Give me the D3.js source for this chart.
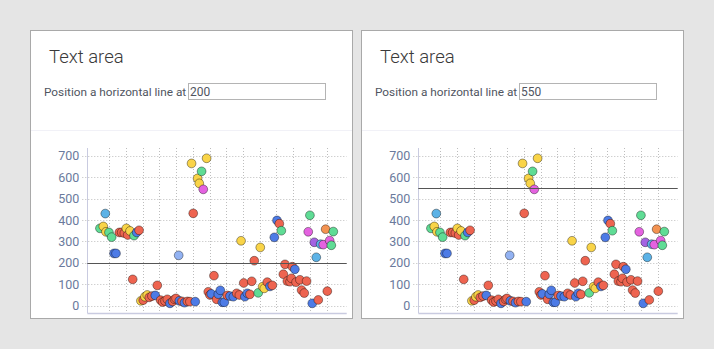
<!DOCTYPE html>
<html>
<head>
<meta charset="utf-8">
<script src="https://cdn.jsdelivr.net/npm/d3@7"></script>
<style>
  html, body { margin: 0; padding: 0; background: #e5e5e5; width: 714px; height: 349px; overflow: hidden; }
  svg { display: block; font-family: Roboto, "Noto Sans", sans-serif; }
</style>
</head>
<body>
<svg id="page" width="714" height="349"></svg>
<script>
// Scatter data: x position (grid units), value, and group of each point
const pointX = [-0.56, -0.36, -0.24, -0.2, -0.02, 0.14, 0.28, 0.40, 0.6, 0.74, 0.9, 1.02, 1.1, 1.24, 1.4, 1.48, 1.64, 1.78,
  1.89, 2.03, 2.13, 2.27, 2.39, 2.55, 2.75, 2.87, 3.07, 3.19, 3.33, 3.47, 3.63, 3.79, 3.9, 3.99, 4.15, 4.19, 4.35, 4.5, 4.67, 4.82,
  4.92, 5.02, 5.14, 5.28, 5.38, 5.52, 5.62, 5.82,
  5.92, 6.02, 6.1, 6.26, 6.42, 6.52, 6.64, 6.76, 6.88, 7.06, 7.22, 7.42, 7.62, 7.78, 7.88, 8.04, 8.11, 8.25, 8.41, 8.52, 8.67,
  8.91, 9.03, 9.17, 9.27, 9.45, 9.61, 9.75, 9.87, 10.03, 10.17, 10.29, 10.41, 10.51, 10.65, 10.81, 10.89, 10.95, 11.1, 11.17,
  11.4, 11.5, 11.66, 11.8, 11.9, 12.0, 12.14, 12.26, 12.38, 12.5, 12.64, 12.8, 12.94, 13.04, 13.18, 13.28, 13.4];
const pointY = [361, 370, 430, 345, 342, 320, 244, 244, 342, 342, 339, 361, 330, 349, 123, 327, 342, 352,
  23, 26, 42, 50, 39, 45, 48, 95, 26, 17, 22, 30, 11, 20, 30, 34, 235, 23, 20, 14, 20, 19,
  664, 431, 19, 594, 571, 627, 543, 688,
  65, 50, 55, 140, 30, 54, 72, 16, 16, 48, 45, 42, 58, 50, 303, 106, 42, 58, 53, 114, 210,
  60, 272, 89, 81, 110, 90, 95, 319, 398, 383, 350, 147, 193, 115, 112, 128, 182, 170, 110,
  121, 73, 59, 115, 345, 422, 11, 296, 226, 27, 287, 285, 357, 68, 304, 282, 346];
const pointGroup = ["green", "yellow", "sky", "yellow", "green", "green", "blue", "blue", "red", "red", "red", "yellow", "red", "yellow", "red", "green", "blue", "red",
  "yellow", "red", "yellow", "yellow", "red", "red", "blue", "red", "red", "red", "red", "red", "blue", "red", "red", "red", "pale", "blue", "red", "blue", "red", "red",
  "yellow", "red", "blue", "yellow", "yellow", "green", "magenta", "yellow",
  "red", "red", "blue", "red", "red", "blue", "blue", "blue", "blue", "red", "blue", "blue", "red", "red", "yellow", "red", "blue", "blue", "red", "red", "red",
  "green", "yellow", "yellow", "yellow", "red", "blue", "red", "blue", "blue", "red", "green", "red", "red", "red", "red", "red", "red", "blue", "red",
  "red", "red", "red", "red", "magenta", "green", "blue", "purple", "sky", "red", "sky", "magenta", "orange", "red", "magenta", "green", "green"];

const groupNames = ["red", "blue", "yellow", "green", "sky", "pale", "magenta", "purple", "orange"];
const groupColors = ["#ee6450", "#4d7be6", "#f9d448", "#5fdc95", "#5cb2e6", "#92b2f2", "#e462e0", "#a463e2", "#f39352"];

const yTicks = [0, 100, 200, 300, 400, 500, 600, 700];
const xGridTicks = [0, 1, 2, 3, 4, 5, 6, 7, 8, 9, 10, 11, 12, 13];

// One panel per horizontal-line position
const panelTitles = ["Text area", "Text area"];
const lineLabel = "Position a horizontal line at";
const lineValues = [200, 550];

const svg = d3.select("#page");
const panelOffsets = [30, 361];
const panelW = 323, panelH = 289;

const plot = { left: 57.3, right: 316.7, top: 118, bottom: 283 };
const x = d3.scaleLinear().domain([-1.316, 14.2]).range([plot.left, plot.right]);
const y = d3.scaleLinear().domain([-34, 736]).range([plot.bottom, plot.top]);
const color = d3.scaleOrdinal().domain(groupNames).range(groupColors);

const points = pointX.map((d, i) => ({ x: d, y: pointY[i], g: pointGroup[i] }));

panelOffsets.forEach((ox, pi) => {
  const p = svg.append("g").attr("transform", `translate(${ox},30)`);

  p.append("rect")
    .attr("x", 0.5).attr("y", 0.5)
    .attr("width", panelW - 1).attr("height", panelH - 1)
    .attr("fill", "#fff").attr("stroke", "#a9a9a9");

  p.append("text")
    .attr("x", 19).attr("y", 33)
    .attr("font-size", 18.5).attr("font-weight", 300)
    .attr("fill", "#3a3a3a")
    .text(panelTitles[pi]);

  p.append("text")
    .attr("x", 14).attr("y", 66)
    .attr("font-size", 11.8)
    .attr("fill", "#50555f")
    .text(lineLabel);

  // input field
  p.append("rect")
    .attr("x", 158.5).attr("y", 53.5)
    .attr("width", 137).attr("height", 16)
    .attr("fill", "#fff").attr("stroke", "#b4b4b4");
  p.append("text")
    .attr("x", 160).attr("y", 66)
    .attr("font-size", 12)
    .attr("fill", "#50555f")
    .text(String(lineValues[pi]));

  p.append("line")
    .attr("x1", 1).attr("x2", panelW - 1)
    .attr("y1", 100.5).attr("y2", 100.5)
    .attr("stroke", "#f1f1f7");

  const chart = p.append("g");

  // horizontal grid with y labels
  const yAxis = d3.axisLeft(y).tickValues(yTicks).tickSize(0).tickPadding(0);
  const yg = chart.append("g").attr("transform", `translate(${plot.left - 8},0)`).call(yAxis);
  yg.select(".domain").remove();
  yg.selectAll("text")
    .attr("font-family", "Roboto, 'Noto Sans', sans-serif")
    .attr("font-size", 12.5)
    .attr("fill", "#6a7a9c")
    .attr("dx", 0);

  chart.append("g").selectAll("line.h").data(yTicks).join("line")
    .attr("x1", plot.left - 5).attr("x2", plot.right)
    .attr("y1", d => Math.round(y(d)) + 0.5).attr("y2", d => Math.round(y(d)) + 0.5)
    .attr("stroke", "#bdbdbd").attr("stroke-dasharray", "1,2");

  chart.append("g").selectAll("line.v").data(xGridTicks).join("line")
    .attr("x1", d => Math.round(x(d)) + 0.5).attr("x2", d => Math.round(x(d)) + 0.5)
    .attr("y1", plot.top).attr("y2", plot.bottom)
    .attr("stroke", "#bdbdbd").attr("stroke-dasharray", "1,2");

  // axis lines
  chart.append("line")
    .attr("x1", Math.round(plot.left) + 0.5).attr("x2", Math.round(plot.left) + 0.5)
    .attr("y1", plot.top).attr("y2", plot.bottom)
    .attr("stroke", "#c9cbe0");
  chart.append("line")
    .attr("x1", plot.left).attr("x2", plot.right)
    .attr("y1", plot.bottom + 0.5).attr("y2", plot.bottom + 0.5)
    .attr("stroke", "#c9cbe0").attr("stroke-width", 1.5);

  // points
  chart.append("g").selectAll("circle").data(points).join("circle")
    .attr("cx", d => x(d.x))
    .attr("cy", d => y(d.y))
    .attr("r", 4.4)
    .attr("fill", d => color(d.g))
    .attr("stroke", "rgba(0,0,0,0.38)")
    .attr("stroke-width", 1);

  // horizontal reference line
  chart.append("line")
    .attr("x1", plot.left).attr("x2", plot.right)
    .attr("y1", Math.round(y(lineValues[pi])) + 0.5).attr("y2", Math.round(y(lineValues[pi])) + 0.5)
    .attr("stroke", "#555").attr("stroke-width", 1.2);
});
</script>
</body>
</html>
